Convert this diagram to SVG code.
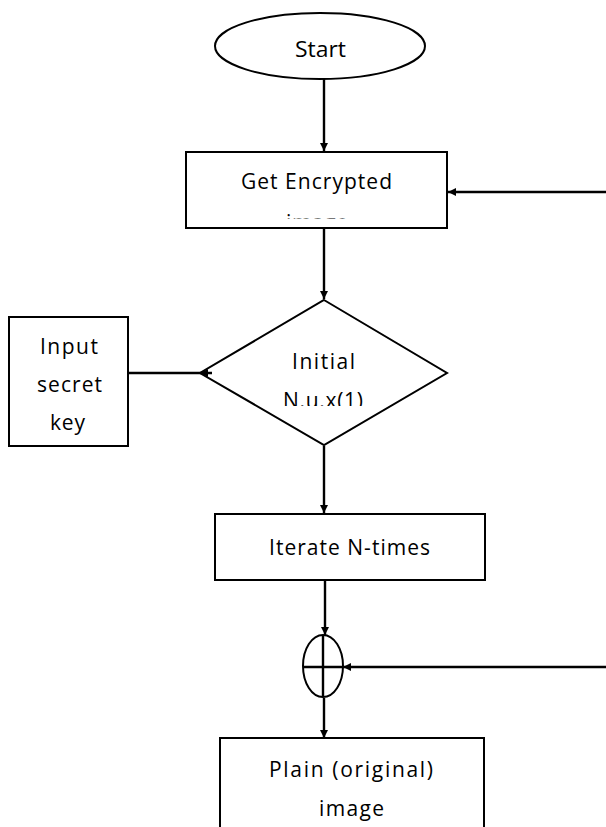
<svg xmlns="http://www.w3.org/2000/svg" width="606" height="827" viewBox="0 0 606 827">
<style>
.shape{fill:#fff;stroke:#000;stroke-width:2}
.ln{fill:none;stroke:#000;stroke-width:2.4}
.t{font-family:"Open Sans","Liberation Sans",sans-serif;font-size:21px;fill:#000}
</style>
<defs>
<marker id="ah" markerWidth="10" markerHeight="10" refX="8" refY="4" orient="auto" markerUnits="userSpaceOnUse">
<path d="M0,0 L8,4 L0,8 Z" fill="#000"/>
</marker>
<clipPath id="clipGet"><rect x="186" y="150" width="262" height="68.5"/></clipPath>
<clipPath id="clipDia"><rect x="200" y="300" width="248" height="106"/></clipPath>
</defs>
<rect width="606" height="827" fill="#fff"/>
<g id="start">
<ellipse class="shape" cx="320" cy="46" rx="105" ry="33"/>
<text class="t" x="295" y="57" textLength="51" lengthAdjust="spacingAndGlyphs">Start</text>
</g>
<g id="getEncrypted">
<rect class="shape" x="186" y="152" width="261" height="76"/>
<text class="t" x="241" y="189" textLength="151" lengthAdjust="spacing">Get Encrypted</text>
<g clip-path="url(#clipGet)">
<text class="t" x="286" y="230" textLength="62" lengthAdjust="spacing">image</text>
</g>
</g>
<g id="initial">
<polygon class="shape" points="324,300 447,373 324,445 200,373"/>
<text class="t" x="292" y="369" textLength="63" lengthAdjust="spacing">Initial</text>
<g clip-path="url(#clipDia)">
<text class="t" x="283" y="408" textLength="80" lengthAdjust="spacing">N.u.x(1)</text>
</g>
</g>
<g id="inputKey">
<rect class="shape" x="9" y="317" width="119" height="129"/>
<text class="t" x="40" y="354" textLength="58" lengthAdjust="spacing">Input</text>
<text class="t" x="37" y="392" textLength="65" lengthAdjust="spacing">secret</text>
<text class="t" x="50" y="430" textLength="35" lengthAdjust="spacing">key</text>
</g>
<g id="iterate">
<rect class="shape" x="215" y="514" width="270" height="66"/>
<text class="t" x="269" y="555" textLength="161" lengthAdjust="spacing">Iterate N-times</text>
</g>
<g id="xor">
<ellipse class="shape" cx="323" cy="666" rx="20" ry="31"/>
<path class="ln" d="M323,635 V697 M303,667 H343"/>
</g>
<g id="plain">
<rect class="shape" x="220" y="738" width="264" height="100"/>
<text class="t" x="269" y="777" textLength="164" lengthAdjust="spacing">Plain (original)</text>
<text class="t" x="319" y="816" textLength="65" lengthAdjust="spacing">image</text>
</g>
<g id="connectors">
<path class="ln" d="M324,79 V151" marker-end="url(#ah)"/>
<path class="ln" d="M606,192 H448" marker-end="url(#ah)"/>
<path class="ln" d="M324,229 V299" marker-end="url(#ah)"/>
<path class="ln" d="M128,373 H212 H200" marker-end="url(#ah)"/>
<path class="ln" d="M324,446 V513" marker-end="url(#ah)"/>
<path class="ln" d="M325,581 V635" marker-end="url(#ah)"/>
<path class="ln" d="M606,667 H343" marker-end="url(#ah)"/>
<path class="ln" d="M324,698 V738" marker-end="url(#ah)"/>
</g>
</svg>
